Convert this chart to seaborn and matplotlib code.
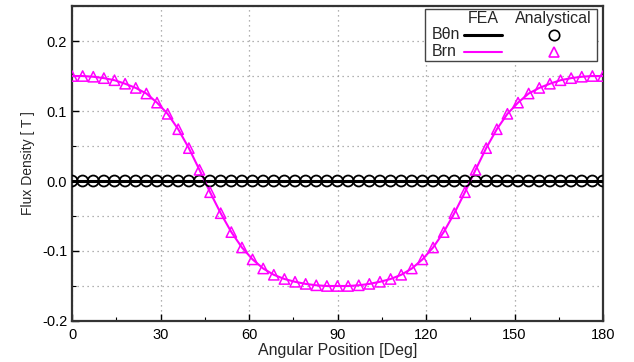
import numpy as np
import pandas as pd
import matplotlib
matplotlib.use("Agg")
import matplotlib.pyplot as plt
from matplotlib.lines import Line2D
from matplotlib.patches import Rectangle
from matplotlib.ticker import MultipleLocator
import seaborn as sns

# angular positions [deg], 3.6 deg step
angle = [0.0, 3.6, 7.2, 10.8, 14.4, 18.0, 21.6, 25.2, 28.8, 32.4,
         36.0, 39.6, 43.2, 46.8, 50.4, 54.0, 57.6, 61.2, 64.8, 68.4,
         72.0, 75.6, 79.2, 82.8, 86.4, 90.0, 93.6, 97.2, 100.8, 104.4,
         108.0, 111.6, 115.2, 118.8, 122.4, 126.0, 129.6, 133.2, 136.8, 140.4,
         144.0, 147.6, 151.2, 154.8, 158.4, 162.0, 165.6, 169.2, 172.8, 176.4,
         180.0]

# radial flux density Brn [T]
brn = [0.150, 0.150, 0.149, 0.147, 0.144, 0.139, 0.133, 0.125, 0.112, 0.096,
       0.074, 0.047, 0.016, -0.016, -0.046, -0.073, -0.095, -0.112, -0.125, -0.134,
       -0.140, -0.144, -0.147, -0.149, -0.150, -0.150, -0.150, -0.149, -0.147, -0.144,
       -0.140, -0.134, -0.125, -0.112, -0.095, -0.073, -0.046, -0.016, 0.016, 0.047,
       0.074, 0.096, 0.112, 0.125, 0.133, 0.139, 0.144, 0.147, 0.149, 0.150,
       0.150]

# tangential flux density Bθn [T]
btn = [0.0, 0.0, 0.0, 0.0, 0.0, 0.0, 0.0, 0.0, 0.0, 0.0,
       0.0, 0.0, 0.0, 0.0, 0.0, 0.0, 0.0, 0.0, 0.0, 0.0,
       0.0, 0.0, 0.0, 0.0, 0.0, 0.0, 0.0, 0.0, 0.0, 0.0,
       0.0, 0.0, 0.0, 0.0, 0.0, 0.0, 0.0, 0.0, 0.0, 0.0,
       0.0, 0.0, 0.0, 0.0, 0.0, 0.0, 0.0, 0.0, 0.0, 0.0,
       0.0]

df = pd.DataFrame({"angle": angle, "Brn": brn, "Btn": btn})

sns.set_theme(style="white")
plt.rcParams["font.family"] = ["Liberation Sans", "DejaVu Sans"]
plt.rcParams["xtick.direction"] = "in"
plt.rcParams["ytick.direction"] = "in"

fig = plt.figure(figsize=(6.34, 3.62), dpi=100)
ax = fig.add_axes([0.1136, 0.1133, 0.8375, 0.870])

magenta = "#ff00ff"

# FEA lines
sns.lineplot(data=df, x="angle", y="Btn", color="black", lw=2.2, ax=ax, zorder=3)
sns.lineplot(data=df, x="angle", y="Brn", color=magenta, lw=1.5, ax=ax, zorder=3)

# analytical markers
sns.scatterplot(data=df, x="angle", y="Btn", marker="o", s=62, fc="none",
                ec="black", linewidth=1.3, ax=ax, zorder=4)
sns.scatterplot(data=df, x="angle", y="Brn", marker="^", s=55, fc="none",
                ec=magenta, linewidth=1.1, ax=ax, zorder=4)

ax.set_xlim(0, 180)
ax.set_ylim(-0.2, 0.25)
ax.xaxis.set_major_locator(MultipleLocator(30))
ax.xaxis.set_minor_locator(MultipleLocator(15))
ax.yaxis.set_major_locator(MultipleLocator(0.1))
ax.yaxis.set_minor_locator(MultipleLocator(0.05))
ax.set_yticks([-0.2, -0.1, 0.0, 0.1, 0.2])
ax.set_yticklabels(["-0.2", "-0.1", "0.0", "0.1", "0.2"])

ax.grid(True, which="major", axis="x", ls=(0, (1, 3)), color="#999999", lw=0.9)
ax.grid(True, which="both", axis="y", ls=(0, (1, 3)), color="#999999", lw=0.9)

ax.tick_params(which="major", length=5, width=1.0, colors="black", labelsize=10.5,
               bottom=True, left=True, top=False, right=False)
ax.tick_params(which="minor", length=3, width=0.8, colors="black",
               bottom=True, left=True, top=False, right=False)
ax.tick_params(axis="x", pad=5)

for sp in ax.spines.values():
    sp.set_color("#333333")
    sp.set_linewidth(1.6)

ax.set_xlabel("Angular Position [Deg]", fontsize=11.5, labelpad=1)
ax.set_ylabel("Flux Density [ T ]", fontsize=10, labelpad=5)

# legend drawn as a small table: FEA | Analystical
tr = ax.transAxes
W, H = 634 * 0.8375, 362 * 0.870
def ax_x(px):
    return (px - 72) / W
def ax_y(py):
    return (321 - py) / H

ax.add_patch(Rectangle((ax_x(425), ax_y(61)), ax_x(597) - ax_x(425), ax_y(9) - ax_y(61),
                       transform=tr, fc="white", ec="#444444", lw=1.0, zorder=10))
ax.text(ax_x(483), ax_y(19), "FEA", transform=tr, ha="center", va="center",
        fontsize=11.5, zorder=11)
ax.text(ax_x(553), ax_y(19), "Analystical", transform=tr, ha="center", va="center",
        fontsize=11.5, zorder=11)
rows = [("Bθn", "black", "o", 2.2), ("Brn", magenta, "^", 1.5)]
for (lab, col, mk, lw), py in zip(rows, [35, 52]):
    ax.text(ax_x(432), ax_y(py), lab, transform=tr, ha="left", va="center",
            fontsize=11.5, zorder=11)
    ax.add_line(Line2D([ax_x(464), ax_x(502)], [ax_y(py), ax_y(py)], transform=tr,
                       color=col, lw=lw, zorder=11))
    ax.add_line(Line2D([ax_x(554)], [ax_y(py)], transform=tr, marker=mk, ms=7.5,
                       mfc="none", mec=col, mew=1.2, ls="none", zorder=11))

fig.savefig("out.png", dpi=100)
